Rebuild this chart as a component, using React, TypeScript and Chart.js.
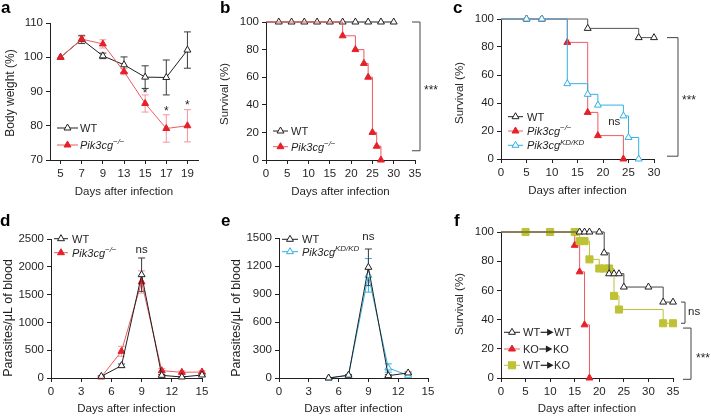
import React, { useEffect, useRef } from 'react';
import { Chart, registerables } from 'chart.js';

Chart.register(...registerables);

const W = 711;
const H = 417;
const FONT = '"Liberation Sans", Arial, Helvetica, sans-serif';
const TXT = '#231f20';
const RED = '#e5202a';
const RED_LINE = '#ee5a5f';
const RED_ERR = '#f39499';
const BLUE = '#31b1e2';
const OLIVE = '#bec234';
const BLK = '#231f20';
const BRK = '#444444';
const XTITLE = 'Days after infection';
const FS = 11.5;

// ---------- panel a: body weight ----------
const aDays = ['5', '7', '9', '13', '15', '17', '19'];
const aWT = [100, 105.2, 100.4, 97.8, 94.2, 94.1, 102.1];
const aWTErr = [0, 1.2, 0.8, 2.3, 3.3, 5.1, 5.3];
const aKO = [100, 105.3, 103.9, 95.8, 86.5, 79.2, 80.0];
const aKOErr = [0, 0.8, 1.2, 0.9, 2.5, 4.0, 4.7];
const aYTicks = [70, 80, 90, 100, 110];
const aStarDays = ['15', '17', '19'];
const aStarPos = [90.3, 85.1, 86.9];

// ---------- panel b: survival ----------
const bWTDays = [0, 3, 6, 9, 12, 15, 18, 21, 24, 27, 30];
const bWTSurv = [100, 100, 100, 100, 100, 100, 100, 100, 100, 100, 100];
const bKODays = [0, 18, 21, 23, 24, 25, 26, 27];
const bKOSurv = [100, 90, 80, 70, 60, 20, 10, 0];
const bXTicks = [0, 5, 10, 15, 20, 25, 30, 35];
const survTicks = [0, 20, 40, 60, 80, 100];

// ---------- panel c: survival ----------
const cWTDays = [0, 5, 8, 17, 27, 30];
const cWTSurv = [100, 100, 100, 93.3, 86.7, 86.7];
const cKODays = [0, 5, 8, 13, 17, 19, 24];
const cKOSurv = [100, 100, 100, 83.3, 33.3, 16.7, 0];
const cKDDays = [0, 5, 8, 13, 17, 19, 24, 25, 27];
const cKDSurv = [100, 100, 100, 53.8, 46.2, 38.5, 30.8, 15.4, 0];
const cXTicks = [0, 5, 10, 15, 20, 25, 30];

// ---------- panel d: parasitemia ----------
const dDays = [5, 7, 9, 11, 13, 15];
const dWT = [30, 222, 1858, 48, 18, 54];
const dWTErr = [10, 30, 300, 15, 10, 15];
const dKO = [18, 480, 1727, 132, 102, 108];
const dKOErr = [10, 90, 200, 40, 25, 25];
const dYTicks = [0, 500, 1000, 1500, 2000, 2500];
const parXTicks = [0, 3, 6, 9, 12, 15];

// ---------- panel e: parasitemia ----------
const eDays = [5, 7, 9, 11, 13];
const eWT = [0, 30, 1186, 25, 54];
const eWTErr = [0, 5, 196, 10, 10];
const eKD = [0, 29, 1100, 107, 29];
const eKDErr = [0, 5, 180, 45, 10];
const eYTicks = [0, 300, 600, 900, 1200, 1500];

// ---------- panel f: chimera survival ----------
const fWWDays = [0, 16, 17, 18, 20, 21, 22, 23, 24, 25, 30, 33, 35];
const fWWSurv = [100, 100, 100, 100, 100, 85.7, 71.4, 71.4, 71.4, 62.3, 62.3, 52, 52];
const fKKDays = [0, 15, 16, 17, 18];
const fKKSurv = [100, 90.9, 72.7, 36.4, 0];
const fWKDays = [0, 5, 10, 15, 16, 17, 18, 20, 21, 22, 23, 24, 33, 35];
const fWKSurv = [100, 100, 100, 100, 93.75, 93.75, 81.25, 75, 75, 75, 56.25, 46.9, 37.5, 37.5];
const fXTicks = [0, 5, 10, 15, 20, 25, 30, 35];

// ---------- helpers ----------
type Box = { l: number; t: number; r: number; b: number; xt: number };
const Y_W = 40;

const axisCommon = () => ({
  border: { display: true, color: BLK, width: 1 },
  grid: { display: true, drawOnChartArea: false, drawTicks: true, tickLength: 4, color: BLK, tickColor: BLK, lineWidth: 1 },
});

function yScale(ticks: number[]) {
  return {
    type: 'linear',
    position: 'left',
    min: ticks[0],
    max: ticks[ticks.length - 1],
    afterBuildTicks: (s: any) => { s.ticks = ticks.map((v) => ({ value: v })); },
    afterFit: (s: any) => { s.width = Y_W; },
    ...axisCommon(),
    ticks: { color: TXT, font: { family: FONT, size: FS }, padding: 3, autoSkip: false, callback: (v: any) => String(v) },
  };
}

function xLinear(ticks: number[], box: Box) {
  const xh = box.xt + FS * 0.6 - box.b;
  return {
    type: 'linear',
    position: 'bottom',
    min: ticks[0],
    max: ticks[ticks.length - 1],
    afterBuildTicks: (s: any) => { s.ticks = ticks.map((v) => ({ value: v })); },
    afterFit: (s: any) => { s.height = xh; },
    ...axisCommon(),
    ticks: { color: TXT, font: { family: FONT, size: FS }, padding: 3, autoSkip: false, maxRotation: 0, callback: (v: any) => String(v) },
    title: { display: true, text: XTITLE, color: TXT, font: { family: FONT, size: FS }, padding: 0 },
  };
}

function xCategory(box: Box) {
  const xh = box.xt + FS * 0.6 - box.b;
  const c: any = axisCommon();
  c.grid.offset = false;
  return {
    type: 'category',
    position: 'bottom',
    offset: true,
    afterFit: (s: any) => { s.height = xh; },
    ...c,
    ticks: { color: TXT, font: { family: FONT, size: FS }, padding: 3, autoSkip: false, maxRotation: 0 },
    title: { display: true, text: XTITLE, color: TXT, font: { family: FONT, size: FS }, padding: 0 },
  };
}

function baseOptions(box: Box, x: any, y: any) {
  const xh = box.xt + FS * 0.6 - box.b;
  return {
    responsive: false,
    animation: false,
    events: [],
    layout: { padding: { left: box.l - Y_W, top: box.t, right: W - box.r, bottom: H - box.b - xh } },
    plugins: { legend: { display: false }, tooltip: { enabled: false } },
    scales: { x, y },
  };
}

function kmSet(days: number[], surv: number[], stroke: string, line: string, fill: string, style: string, r: number, order: number) {
  return {
    data: days.map((d, i) => ({ x: d, y: surv[i] })),
    stepped: true,
    borderColor: line,
    borderWidth: 1,
    fill: false,
    pointStyle: style,
    pointRadius: days.map((_, i) => (i === 0 ? 0 : r)),
    pointBackgroundColor: fill,
    pointBorderColor: stroke,
    pointBorderWidth: 1,
    clip: false,
    order,
  };
}

function lineSet(data: any[], stroke: string, line: string, fill: string, order: number) {
  return {
    data,
    borderColor: line,
    borderWidth: 1,
    fill: false,
    tension: 0,
    pointStyle: 'triangle',
    pointRadius: 4,
    pointBackgroundColor: fill,
    pointBorderColor: stroke,
    pointBorderWidth: 1,
    clip: false,
    order,
  };
}

function marker(ctx: CanvasRenderingContext2D, style: string, x: number, y: number, r: number, fill: string, stroke: string) {
  ctx.save();
  ctx.beginPath();
  if (style === 'triangle') {
    ctx.moveTo(x, y - r);
    ctx.lineTo(x + 0.866 * r, y + 0.5 * r);
    ctx.lineTo(x - 0.866 * r, y + 0.5 * r);
    ctx.closePath();
  } else {
    const s = Math.SQRT1_2 * r;
    ctx.rect(x - s, y - s, 2 * s, 2 * s);
  }
  ctx.fillStyle = fill;
  ctx.fill();
  ctx.strokeStyle = stroke;
  ctx.lineWidth = 1;
  ctx.stroke();
  ctx.restore();
}

type Part = { t: string; it?: boolean; sup?: boolean };
function label(ctx: CanvasRenderingContext2D, x: number, y: number, parts: Part[], size = 11) {
  let cx = x;
  ctx.save();
  ctx.fillStyle = TXT;
  ctx.textAlign = 'left';
  ctx.textBaseline = 'alphabetic';
  for (const p of parts) {
    const fs = p.sup ? size * 0.72 : size;
    ctx.font = `${p.it ? 'italic ' : ''}${fs}px ${FONT}`;
    const base = y + size * 0.36 - (p.sup ? size * 0.42 : 0);
    ctx.fillText(p.t, cx, base);
    cx += ctx.measureText(p.t).width;
  }
  ctx.restore();
  return cx;
}

function legendRow(ctx: CanvasRenderingContext2D, x1: number, x2: number, y: number, lineColor: string, style: string, fill: string, stroke: string, r: number, tx: number, parts: Part[]) {
  ctx.save();
  ctx.strokeStyle = lineColor;
  ctx.lineWidth = 1;
  ctx.beginPath();
  ctx.moveTo(x1, y);
  ctx.lineTo(x2, y);
  ctx.stroke();
  ctx.restore();
  marker(ctx, style, (x1 + x2) / 2, y, r, fill, stroke);
  return label(ctx, tx, y, parts);
}

function arrow(ctx: CanvasRenderingContext2D, x: number, y: number) {
  ctx.save();
  ctx.strokeStyle = BLK;
  ctx.fillStyle = BLK;
  ctx.lineWidth = 1.2;
  ctx.beginPath();
  ctx.moveTo(x, y);
  ctx.lineTo(x + 8, y);
  ctx.stroke();
  ctx.beginPath();
  ctx.moveTo(x + 6.5, y - 3.5);
  ctx.lineTo(x + 13, y);
  ctx.lineTo(x + 6.5, y + 3.5);
  ctx.closePath();
  ctx.fill();
  ctx.restore();
  return x + 13.5;
}

function letter(ctx: CanvasRenderingContext2D, s: string, x: number, y: number) {
  ctx.save();
  ctx.fillStyle = '#000';
  ctx.font = `bold 17px ${FONT}`;
  ctx.textAlign = 'left';
  ctx.textBaseline = 'alphabetic';
  ctx.fillText(s, x, y);
  ctx.restore();
}

function ytitle(ctx: CanvasRenderingContext2D, s: string, x: number, y: number, size = FS) {
  ctx.save();
  ctx.translate(x, y);
  ctx.rotate(-Math.PI / 2);
  ctx.fillStyle = TXT;
  ctx.font = `${size}px ${FONT}`;
  ctx.textAlign = 'center';
  ctx.textBaseline = 'middle';
  ctx.fillText(s, 0, 0);
  ctx.restore();
}

// asterisk text: cy is visual centre of the glyphs
function starText(ctx: CanvasRenderingContext2D, s: string, x: number, cy: number, align: CanvasTextAlign, size = 12) {
  ctx.save();
  ctx.fillStyle = TXT;
  ctx.font = `${size}px ${FONT}`;
  ctx.textAlign = align;
  ctx.textBaseline = 'alphabetic';
  ctx.fillText(s, x, cy + size * 0.58);
  ctx.restore();
}

function nsText(ctx: CanvasRenderingContext2D, x: number, cy: number, align: CanvasTextAlign) {
  ctx.save();
  ctx.fillStyle = TXT;
  ctx.font = `${FS}px ${FONT}`;
  ctx.textAlign = align;
  ctx.textBaseline = 'alphabetic';
  ctx.fillText('ns', x, cy + FS * 0.26);
  ctx.restore();
}

function bracket(ctx: CanvasRenderingContext2D, x: number, xl: number, y1: number, y2: number) {
  ctx.save();
  ctx.strokeStyle = BRK;
  ctx.lineWidth = 1;
  ctx.beginPath();
  ctx.moveTo(xl, y1);
  ctx.lineTo(x, y1);
  ctx.lineTo(x, y2);
  ctx.lineTo(xl, y2);
  ctx.stroke();
  ctx.restore();
}

function errorBars(chart: any, ds: number, values: number[], errs: number[], color: string) {
  const ctx: CanvasRenderingContext2D = chart.ctx;
  const ys = chart.scales.y;
  const meta = chart.getDatasetMeta(ds);
  ctx.save();
  ctx.strokeStyle = color;
  ctx.lineWidth = 1;
  meta.data.forEach((pt: any, i: number) => {
    const e = errs[i];
    if (!e) return;
    const x = pt.x;
    const y1 = ys.getPixelForValue(values[i] + e);
    const y2 = ys.getPixelForValue(Math.max(values[i] - e, ys.min));
    ctx.beginPath();
    ctx.moveTo(x, y1);
    ctx.lineTo(x, y2);
    ctx.moveTo(x - 3.5, y1);
    ctx.lineTo(x + 3.5, y1);
    ctx.moveTo(x - 3.5, y2);
    ctx.lineTo(x + 3.5, y2);
    ctx.stroke();
  });
  ctx.restore();
}

const KO_PARTS: Part[] = [{ t: 'Pik3cg', it: true }, { t: '\u2212/\u2212', it: true, sup: true }];
const KD_PARTS: Part[] = [{ t: 'Pik3cg', it: true }, { t: 'KD/KD', it: true, sup: true }];

// ---------- chart configs ----------
function configA() {
  const box: Box = { l: 50, t: 23, r: 198, b: 160, xt: 191.7 };
  return {
    type: 'line',
    data: {
      labels: aDays,
      datasets: [
        lineSet(aKO, RED, RED_LINE, RED, 1),
        lineSet(aWT, BLK, BLK, '#ffffff', 2),
      ],
    },
    options: baseOptions(box, xCategory(box), yScale(aYTicks)),
    plugins: [
      {
        id: 'extrasA',
        beforeDatasetsDraw(chart: any) {
          errorBars(chart, 1, aWT, aWTErr, '#3a3a3a');
          errorBars(chart, 0, aKO, aKOErr, RED_ERR);
        },
        afterDraw(chart: any) {
          const ctx = chart.ctx;
          const xs = chart.scales.x;
          const ys = chart.scales.y;
          letter(ctx, 'a', 1, 13);
          ytitle(ctx, 'Body weight (%)', 10.5, 93, 12);
          aStarDays.forEach((d, i) => {
            starText(ctx, '*', xs.getPixelForValue(aDays.indexOf(d)), ys.getPixelForValue(aStarPos[i]), 'center', 12);
          });
          legendRow(ctx, 57, 78, 128, BLK, 'triangle', '#ffffff', BLK, 4, 80, [{ t: 'WT' }]);
          legendRow(ctx, 57, 78, 145, RED_LINE, 'triangle', RED, RED, 4, 80, KO_PARTS);
        },
      },
    ],
  };
}

function configB() {
  const box: Box = { l: 266, t: 22, r: 415, b: 160, xt: 191.7 };
  return {
    type: 'line',
    data: {
      datasets: [
        kmSet(bKODays, bKOSurv, RED, RED_LINE, RED, 'triangle', 4, 1),
        kmSet(bWTDays, bWTSurv, BLK, BLK, '#ffffff', 'triangle', 4, 2),
      ],
    },
    options: baseOptions(box, xLinear(bXTicks, box), yScale(survTicks)),
    plugins: [
      {
        id: 'extrasB',
        afterDraw(chart: any) {
          const ctx = chart.ctx;
          const ys = chart.scales.y;
          letter(ctx, 'b', 220, 13);
          ytitle(ctx, 'Survival (%)', 225, 94);
          bracket(ctx, 420, 412, ys.getPixelForValue(100), ys.getPixelForValue(6.7));
          starText(ctx, '***', 424, 87, 'left', 12);
          legendRow(ctx, 273, 288, 131, BLK, 'triangle', '#ffffff', BLK, 4, 291, [{ t: 'WT' }]);
          legendRow(ctx, 273, 288, 146.7, RED_LINE, 'triangle', RED, RED, 4, 291, KO_PARTS);
        },
      },
    ],
  };
}

function configC() {
  const box: Box = { l: 501, t: 19, r: 654, b: 159, xt: 191 };
  return {
    type: 'line',
    data: {
      datasets: [
        kmSet(cKDDays, cKDSurv, BLUE, BLUE, '#ffffff', 'triangle', 4, 1),
        kmSet(cKODays, cKOSurv, RED, RED_LINE, RED, 'triangle', 4, 2),
        kmSet(cWTDays, cWTSurv, BLK, '#555555', '#ffffff', 'triangle', 4, 3),
      ],
    },
    options: baseOptions(box, xLinear(cXTicks, box), yScale(survTicks)),
    plugins: [
      {
        id: 'extrasC',
        afterDraw(chart: any) {
          const ctx = chart.ctx;
          const xs = chart.scales.x;
          const ys = chart.scales.y;
          letter(ctx, 'c', 453, 13);
          ytitle(ctx, 'Survival (%)', 460, 93);
          bracket(ctx, 678, 667, ys.getPixelForValue(86.7), ys.getPixelForValue(2));
          starText(ctx, '***', 682, 97, 'left', 12);
          nsText(ctx, xs.getPixelForValue(22.2), ys.getPixelForValue(26.5), 'center');
          legendRow(ctx, 508, 523, 116.7, BLK, 'triangle', '#ffffff', BLK, 4, 527, [{ t: 'WT' }]);
          legendRow(ctx, 508, 523, 131, RED_LINE, 'triangle', RED, RED, 4, 527, KO_PARTS);
          legendRow(ctx, 508, 523, 145.3, BLUE, 'triangle', '#ffffff', BLUE, 4, 527, KD_PARTS);
        },
      },
    ],
  };
}

function configD() {
  const box: Box = { l: 51, t: 239, r: 202, b: 378, xt: 409 };
  return {
    type: 'line',
    data: {
      datasets: [
        lineSet(dDays.map((d, i) => ({ x: d, y: dWT[i] })), BLK, BLK, '#ffffff', 1),
        lineSet(dDays.map((d, i) => ({ x: d, y: dKO[i] })), RED, RED_LINE, RED, 2),
      ],
    },
    options: baseOptions(box, xLinear(parXTicks, box), yScale(dYTicks)),
    plugins: [
      {
        id: 'extrasD',
        beforeDatasetsDraw(chart: any) {
          errorBars(chart, 1, dKO, dKOErr, RED_ERR);
          errorBars(chart, 0, dWT, dWTErr, '#3a3a3a');
        },
        afterDraw(chart: any) {
          const ctx = chart.ctx;
          const xs = chart.scales.x;
          const ys = chart.scales.y;
          letter(ctx, 'd', 0, 226);
          ytitle(ctx, 'Parasites/\u03bcL of blood', 8.5, 318, 12.5);
          nsText(ctx, xs.getPixelForValue(9), ys.getPixelForValue(2307), 'center');
          legendRow(ctx, 54, 68, 238.7, BLK, 'triangle', '#ffffff', BLK, 4, 72, [{ t: 'WT' }]);
          legendRow(ctx, 54, 68, 252.7, RED_LINE, 'triangle', RED, RED, 4, 72, KO_PARTS);
        },
      },
    ],
  };
}

function configE() {
  const box: Box = { l: 279, t: 238, r: 428, b: 378, xt: 409 };
  return {
    type: 'line',
    data: {
      datasets: [
        lineSet(eDays.map((d, i) => ({ x: d, y: eKD[i] })), BLUE, BLUE, '#ffffff', 2),
        lineSet(eDays.map((d, i) => ({ x: d, y: eWT[i] })), BLK, BLK, '#ffffff', 1),
      ],
    },
    options: baseOptions(box, xLinear(parXTicks, box), yScale(eYTicks)),
    plugins: [
      {
        id: 'extrasE',
        beforeDatasetsDraw(chart: any) {
          errorBars(chart, 0, eKD, eKDErr, BLUE);
          errorBars(chart, 1, eWT, eWTErr, '#3a3a3a');
        },
        afterDraw(chart: any) {
          const ctx = chart.ctx;
          const xs = chart.scales.x;
          const ys = chart.scales.y;
          letter(ctx, 'e', 221, 226);
          ytitle(ctx, 'Parasites/\u03bcL of blood', 237, 318, 12.5);
          nsText(ctx, xs.getPixelForValue(9), ys.getPixelForValue(1515), 'center');
          legendRow(ctx, 282, 298, 239.3, BLK, 'triangle', '#ffffff', BLK, 4, 302, [{ t: 'WT' }]);
          legendRow(ctx, 282, 298, 251.7, BLUE, 'triangle', '#ffffff', BLUE, 4, 302, KD_PARTS);
        },
      },
    ],
  };
}

function configF() {
  const box: Box = { l: 501, t: 232, r: 673, b: 378, xt: 409 };
  return {
    type: 'line',
    data: {
      datasets: [
        kmSet(fWKDays, fWKSurv, OLIVE, OLIVE, OLIVE, 'rect', 5, 1),
        kmSet(fKKDays, fKKSurv, RED, RED_LINE, RED, 'triangle', 4, 2),
        kmSet(fWWDays, fWWSurv, BLK, '#444444', '#ffffff', 'triangle', 4, 0),
      ],
    },
    options: baseOptions(box, xLinear(fXTicks, box), yScale(survTicks)),
    plugins: [
      {
        id: 'extrasF',
        afterDraw(chart: any) {
          const ctx = chart.ctx;
          const ys = chart.scales.y;
          letter(ctx, 'f', 454, 226);
          ytitle(ctx, 'Survival (%)', 460, 304);
          bracket(ctx, 685, 681, ys.getPixelForValue(52), ys.getPixelForValue(37.5));
          bracket(ctx, 691, 683, ys.getPixelForValue(34.2), ys.getPixelForValue(-0.9));
          nsText(ctx, 688, 311.7, 'left');
          starText(ctx, '***', 696, 355, 'left', 12);
          const rows: [number, string, string, string, string, number, string, string][] = [
            [332.3, BLK, 'triangle', '#ffffff', BLK, 4, 'WT', 'WT'],
            [349, RED_LINE, 'triangle', RED, RED, 4, 'KO', 'KO'],
            [365.3, OLIVE, 'rect', OLIVE, OLIVE, 5, 'WT', 'KO'],
          ];
          rows.forEach(([y, lc, st, fill, stroke, r, a, b]) => {
            const cx = legendRow(ctx, 504, 520, y, lc, st, fill, stroke, r, 523, [{ t: a }]);
            const ax = arrow(ctx, cx + 0.5, y);
            label(ctx, ax, y, [{ t: b }]);
          });
        },
      },
    ],
  };
}

function Panel({ build }: { build: () => any }) {
  const ref = useRef<HTMLCanvasElement>(null);
  useEffect(() => {
    const chart = new Chart(ref.current as HTMLCanvasElement, build());
    return () => chart.destroy();
  }, [build]);
  return (
    <canvas
      ref={ref}
      width={W}
      height={H}
      style={{ position: 'absolute', left: 0, top: 0, width: W, height: H }}
    />
  );
}

export default function App() {
  return (
    <div style={{ position: 'fixed', left: 0, top: 0, width: W, height: H, background: '#ffffff', overflow: 'hidden' }}>
      <Panel build={configA} />
      <Panel build={configB} />
      <Panel build={configC} />
      <Panel build={configD} />
      <Panel build={configE} />
      <Panel build={configF} />
    </div>
  );
}
